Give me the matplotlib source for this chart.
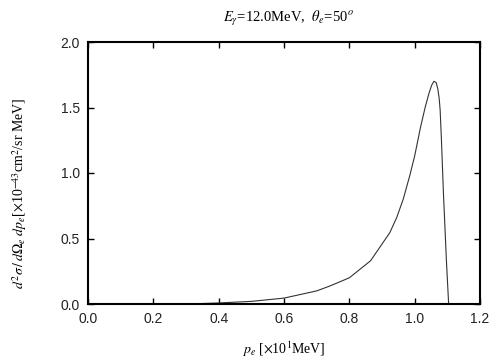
import numpy as np
import matplotlib
matplotlib.use("Agg")
import matplotlib.pyplot as plt

# values
pe = [0.31, 0.40, 0.50, 0.60, 0.70, 0.74, 0.80, 0.865, 0.924, 0.945, 0.965,
      0.985, 1.0, 1.018, 1.032, 1.044, 1.052, 1.059, 1.066, 1.071, 1.075,
      1.078, 1.082, 1.088, 1.097, 1.104]
xsec = [0.0, 0.008, 0.02, 0.045, 0.10, 0.137, 0.20, 0.33, 0.545, 0.66, 0.80,
        0.98, 1.13, 1.35, 1.50, 1.61, 1.67, 1.70, 1.69, 1.64, 1.57,
        1.48, 1.25, 0.85, 0.34, 0.0]

xticks = [0.0, 0.2, 0.4, 0.6, 0.8, 1.0, 1.2]
yticks = [0.0, 0.5, 1.0, 1.5, 2.0]

plt.rcParams['mathtext.fontset'] = 'stix'
plt.rcParams['font.family'] = ['Liberation Sans', 'DejaVu Sans']

fig = plt.figure(figsize=(5.04, 3.6), dpi=100)
ax = fig.add_axes([88 / 504, 1 - 304 / 360, 392 / 504, 262 / 360])

ax.plot(pe, xsec, color='#333333', lw=0.8)

ax.set_xlim(0, 1.2)
ax.set_ylim(0, 2.0)
ax.set_xticks(xticks)
ax.set_yticks(yticks)
ax.set_xticklabels([f"{t:.1f}" for t in xticks])
ax.set_yticklabels([f"{t:.1f}" for t in yticks])
ax.tick_params(direction='in', top=True, right=True, length=4.5, width=1,
               labelsize=10, pad=6, labelcolor='#222222')
for s in ax.spines.values():
    s.set_linewidth(1.5)

serif = 'Liberation Serif'
fig.text(288 / 504, 1 - 19 / 360,
         r'$E_\gamma$=12.0MeV,  $\theta_e$=50$^o$',
         ha='center', va='center', fontsize=10.5, family=serif)
fig.text(284 / 504, 1 - 349 / 360,
         r'$p_e$ [$\times$10$^1$MeV]',
         ha='center', va='center', fontsize=10, family=serif)
fig.text(20 / 504, 1 - 193 / 360,
         r'$d^2\sigma\,/\,d\Omega_e\ dp_e$[$\times$10$^{-43}$cm$^2$/sr MeV]',
         ha='center', va='center', rotation=90, fontsize=10, family=serif)

fig.savefig('out.png', dpi=100)
